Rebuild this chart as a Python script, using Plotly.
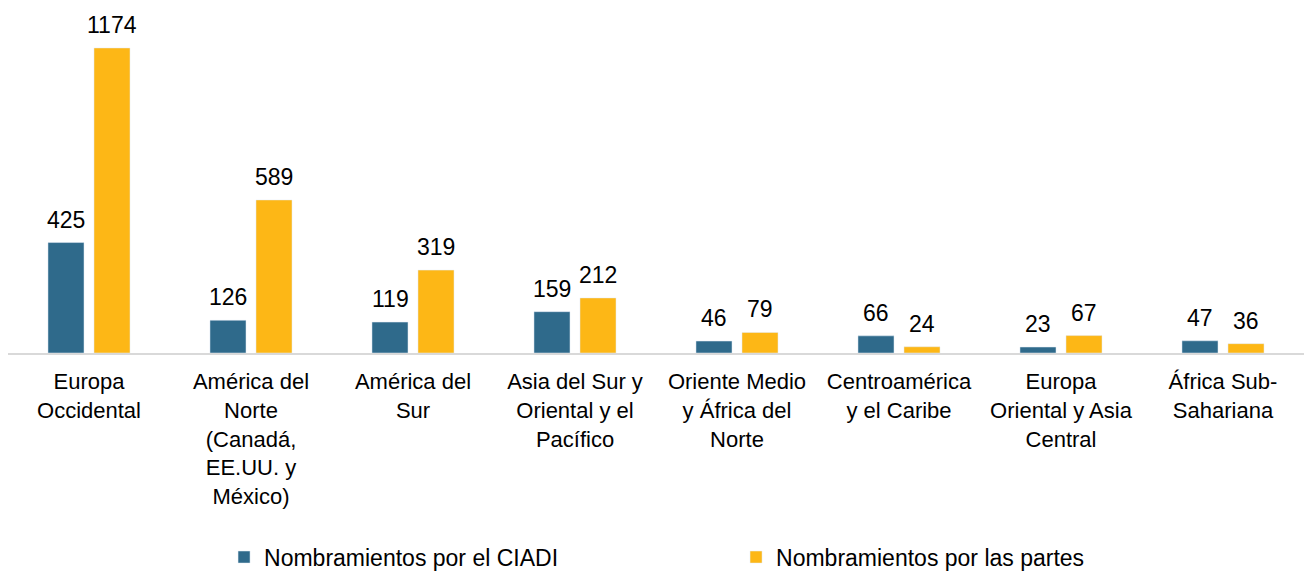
import plotly.graph_objects as go

categories = [
    "Europa<br>Occidental",
    "América del<br>Norte<br>(Canadá,<br>EE.UU. y<br>México)",
    "América del<br>Sur",
    "Asia del Sur y<br>Oriental y el<br>Pacífico",
    "Oriente Medio<br>y África del<br>Norte",
    "Centroamérica<br>y el Caribe",
    "Europa<br>Oriental y Asia<br>Central",
    "África Sub-<br>Sahariana",
]
ciadi = [425, 126, 119, 159, 46, 66, 23, 47]
partes = [1174, 589, 319, 212, 79, 24, 67, 36]
series_names = ["Nombramientos por el CIADI", "Nombramientos por las partes"]
colors = ["#2F6A8B", "#FDB716"]

FONT = "Liberation Sans, Arial, sans-serif"

fig = go.Figure()
fig.add_trace(go.Bar(x=categories, y=ciadi, name=series_names[0], marker_color=colors[0]))
fig.add_trace(go.Bar(x=categories, y=partes, name=series_names[1], marker_color=colors[1]))

annotations = []
for vals, shift in ((ciadi, -23), (partes, 23)):
    for c, v in zip(categories, vals):
        annotations.append(dict(x=c, y=v, text=str(v), showarrow=False, xref="x", yref="y",
                                yanchor="bottom", xshift=shift, yshift=8,
                                font=dict(family=FONT, size=23, color="#000000")))

fig.update_layout(
    width=1304, height=571,
    margin=dict(l=8, r=0, t=10, b=218, autoexpand=False),
    paper_bgcolor="white", plot_bgcolor="white",
    barmode="group", bargap=0.432, bargroupgap=0.217,
    font=dict(family=FONT, size=23, color="#000000"),
    annotations=annotations,
    showlegend=True,
    legend=dict(orientation="h", x=0.1667, xanchor="left", y=-0.595, yanchor="middle",
                entrywidth=467, itemwidth=30, font=dict(family=FONT, size=23, color="#000000")),
    xaxis=dict(showline=True, linecolor="#D9D9D9", linewidth=2, ticks="", showgrid=False,
               automargin=False, ticklabelstandoff=8,
               tickfont=dict(family=FONT, size=22, color="#000000"), tickangle=0),
    yaxis=dict(range=[0, 1320], visible=False, showgrid=False, zeroline=False, automargin=False),
)

fig.write_html("out.html", config={"displayModeBar": False},
               post_script="document.body.style.margin='0';document.body.style.overflow='hidden';")
